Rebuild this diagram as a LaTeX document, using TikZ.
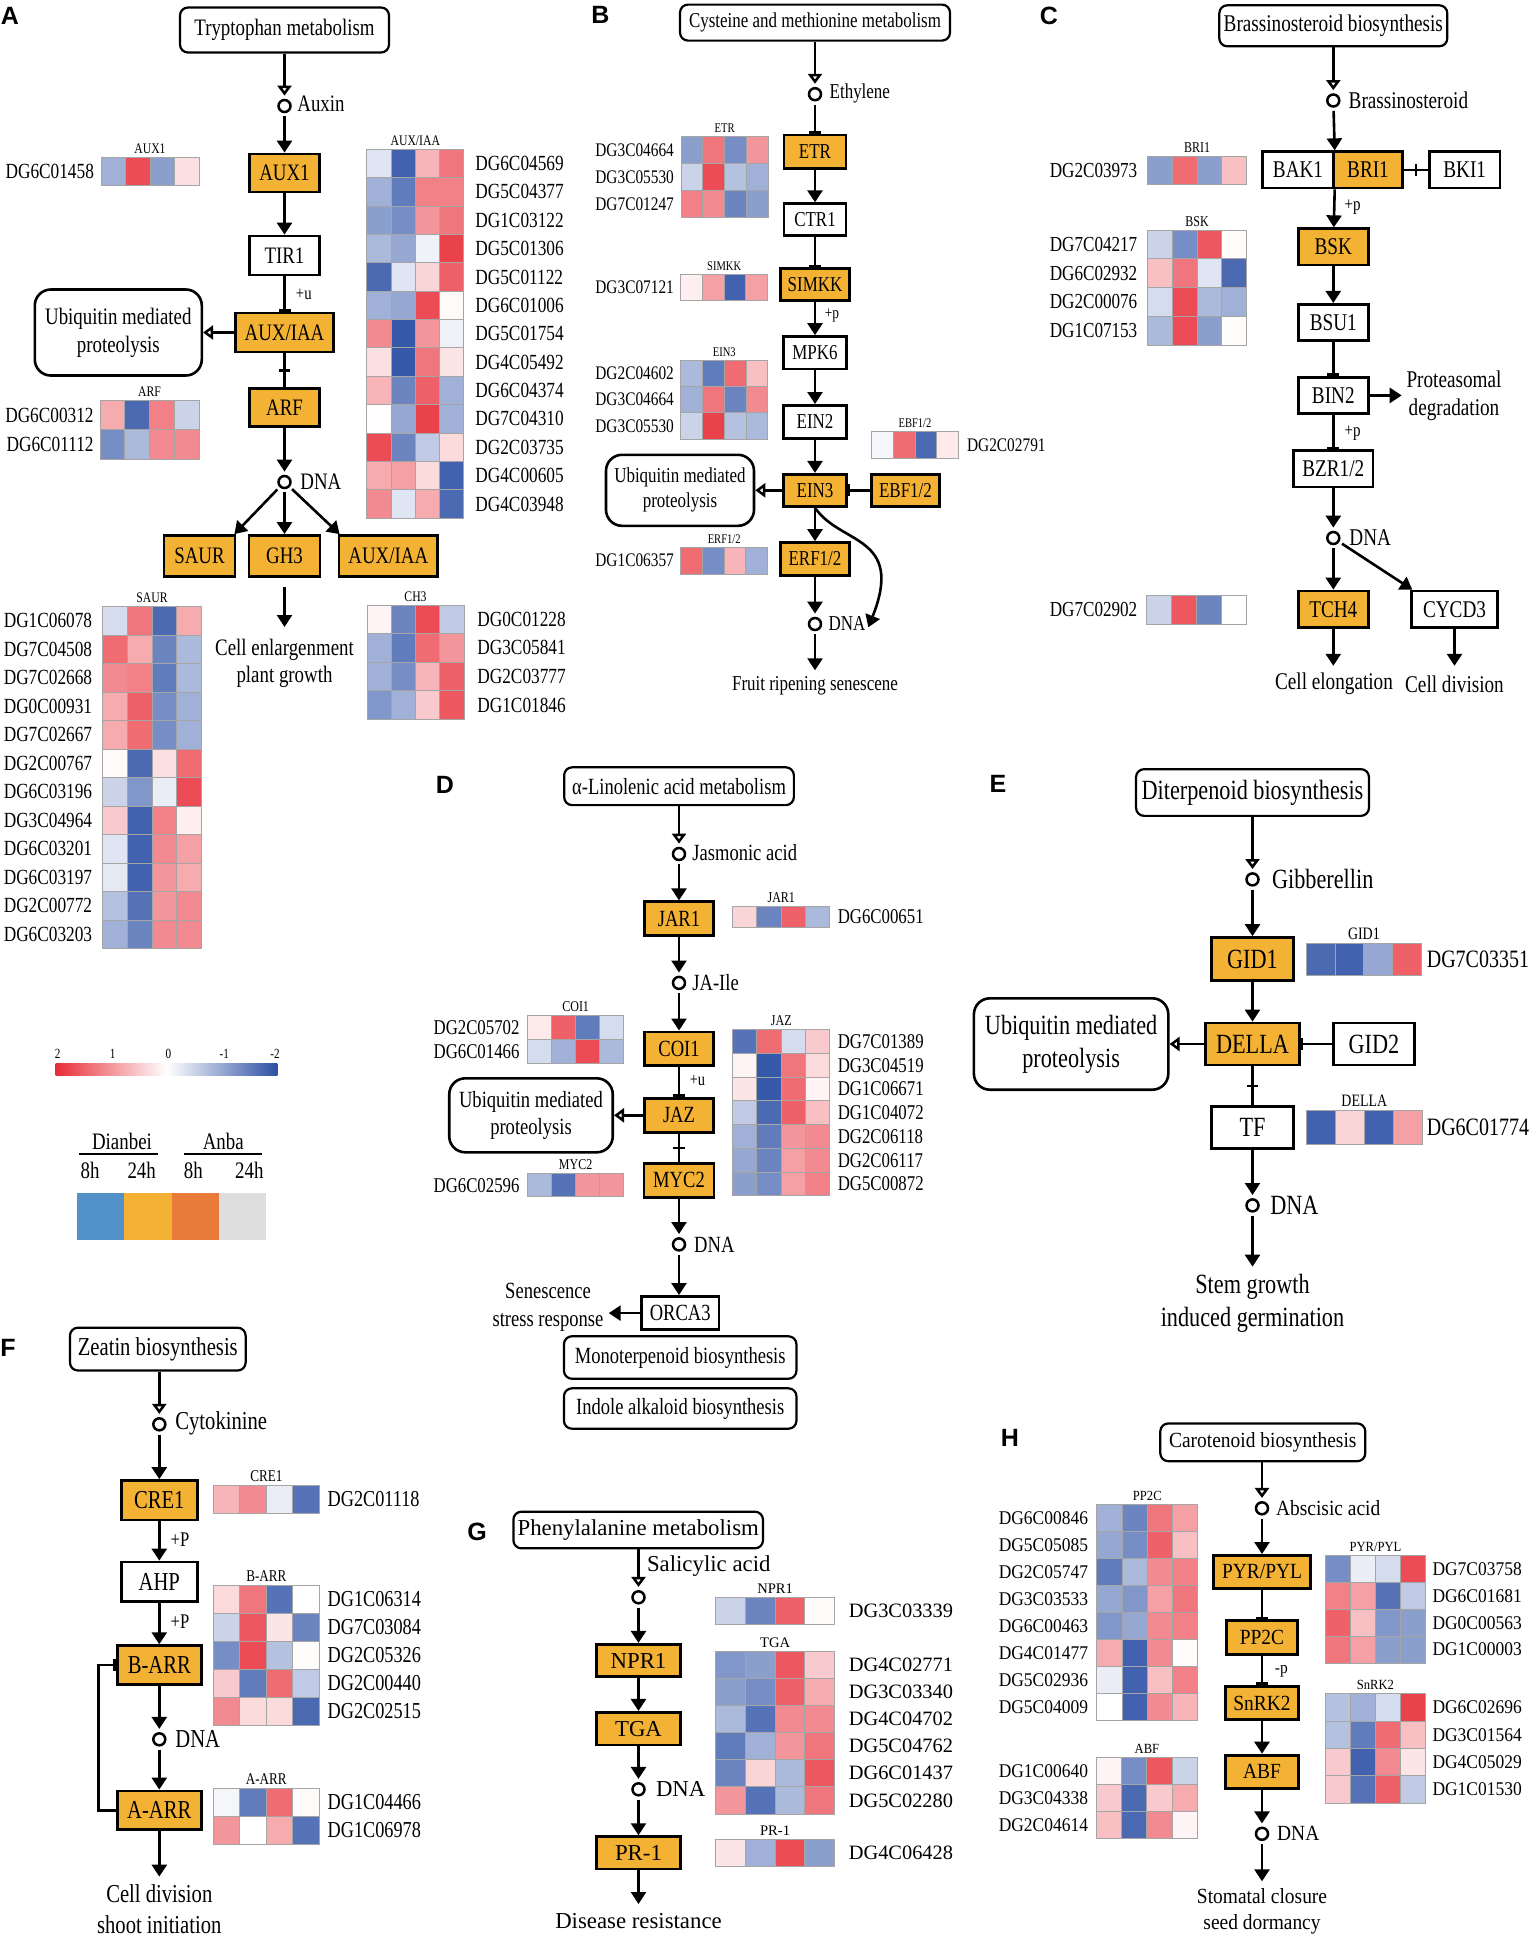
\documentclass[tikz,border=0pt]{standalone}
\usepackage{fontspec}
\setmainfont{Liberation Serif}
\newfontfamily\fcond[FakeStretch=0.8]{Liberation Serif}
\newfontfamily\fmid[FakeStretch=0.9]{Liberation Serif}
\newfontfamily\fnorm{Liberation Serif}
\newfontfamily\fletter{Liberation Sans}
\usetikzlibrary{arrows.meta,decorations.markings}

\definecolor{ggold}{RGB}{244,178,52}
\definecolor{hred}{RGB}{232,45,55}
\definecolor{hblue}{RGB}{45,80,165}
\definecolor{hgrey}{RGB}{165,165,165}
\definecolor{lgblue}{RGB}{82,146,201}
\definecolor{lgorange}{RGB}{232,122,58}
\definecolor{lggrey}{RGB}{222,222,222}

% panel fonts: family, main size, id size, heatmap title size, small size
\newcommand\setpanel[5]{\def\pf{#1}\def\szM{#2}\def\szI{#3}\def\szH{#4}\def\szS{#5}\pgfmathsetmacro\szMb{1.18*#2}}

% heatmap: name, x, y(top), cell w, cell h, label x, label anchor, title, rows id/v1/v2/v3/v4
\newcommand{\heatmap}[9]{%
  \node[hmtitle] (#1) at ({#2+2*#4},{#3-4}) {#8};
  \foreach \gname/\qa/\qb/\qc/\qd [count=\rr from 0] in {#9}{%
    \foreach \val [count=\cc from 0] in {\qa,\qb,\qc,\qd}{%
      \pgfmathsetmacro{\pc}{min(100,abs(\val)*50)}%
      \ifdim\val pt<0pt \def\hcol{hblue}\else\def\hcol{hred}\fi
      \filldraw[hcell,fill=\hcol!\pc!white] ({#2+\cc*#4},{#3+\rr*#5}) rectangle ++(#4,#5);
    }
    \node[gid,anchor=#7] (#1-\rr) at (#6,{#3+(\rr+0.5)*#5}) {\gname};
  }
}

\tikzset{
  mfont/.style={font=\pf\fontsize{\szM}{\szMb}\selectfont},
  pathbox/.style={draw, fill=white, rounded corners=4pt, line width=1.1pt, mfont, inner sep=0pt},
  genebox/.style={draw, fill=ggold, line width=1.4pt, mfont, inner sep=0pt},
  plainbox/.style={draw, fill=white, line width=1.4pt, mfont, inner sep=0pt},
  ubox/.style={draw, rounded corners=8pt, line width=1.3pt, mfont, align=center, inner sep=0pt},
  met/.style={circle, draw, line width=1.25pt, minimum size=6pt, inner sep=0pt, outer sep=2.2pt},
  lbl/.style={mfont, inner sep=0pt, anchor=west},
  outc/.style={mfont, align=center, inner sep=0pt},
  signl/.style={font=\pf\fontsize{\szS}{\szS}\selectfont, inner sep=0pt},
  gid/.style={font=\pf\fontsize{\szI}{\szI}\selectfont, inner sep=0pt},
  hmtitle/.style={font=\pf\fontsize{\szH}{\szH}\selectfont, inner sep=0pt, anchor=base},
  hcell/.style={draw=hgrey, line width=0.5pt},
  letter/.style={font=\fletter\bfseries\fontsize{12.5}{12.5}\selectfont, inner sep=0pt},
  conn/.style={line width=1.3pt},
  actarr/.style={conn, -{Triangle[width=7.5pt,length=6pt]}},
  openarr/.style={conn, -{Triangle[open,width=7pt,length=5pt]}},
  inharr/.style={conn, -{Bar[width=6pt]}},
  midbar/.style={conn, postaction={decorate, decoration={markings,
      mark=at position 0.5 with {\draw[conn] (0,-2.8pt) -- (0,2.8pt);}}}},
  tickl/.style={font=\fcond\fontsize{7}{7}\selectfont, inner sep=0pt},
}

\begin{document}
\begin{tikzpicture}[x=0.5pt,y=0.5pt,yscale=-1]
\useasboundingbox (0,0) rectangle (1535,1939);

%%%%%%%%%%%%%%%% A : Tryptophan
\begin{scope}
\setpanel{\fcond}{11.8}{10.8}{7.3}{9.2}
% Text Node
\node[letter] (lA) at (10,15.5) {A};
%Shape: Rounded Rect
\node[pathbox, minimum width=104.5pt, minimum height=22.5pt] (trp) at (284.5,30) {Tryptophan metabolism};
\node[met] (auxin) at (284.5,106) {};
\node[lbl] (auxinl) at (297,104) {Auxin};
%Shape: Rectangle
\node[genebox, minimum width=35pt, minimum height=19pt] (aux1) at (284.5,173) {AUX1};
\node[plainbox, minimum width=35pt, minimum height=19.5pt] (tir1) at (284.5,255.5) {TIR1};
\node[genebox, minimum width=49pt, minimum height=19.5pt] (auxiaa) at (284.5,332.5) {AUX/IAA};
\node[ubox, minimum width=83.5pt, minimum height=43pt] (ubqA) at (118.3,332.5) {Ubiquitin mediated\\proteolysis};
\node[genebox, minimum width=35pt, minimum height=19pt] (arf) at (284.5,407.7) {ARF};
\node[met] (dnaA) at (284.5,482) {};
\node[lbl] (dnaAl) at (300,482) {DNA};
\node[genebox, minimum width=35.5pt, minimum height=20.5pt] (saur) at (199.5,556) {SAUR};
\node[genebox, minimum width=35.5pt, minimum height=20.5pt] (gh3) at (284.5,556) {GH3};
\node[genebox, minimum width=49.3pt, minimum height=20.5pt] (auxiaa2) at (388.3,556) {AUX/IAA};
% Text Node
\node[signl] (uA) at (303.8,294.6) {+u};
\node[outc] (outA) at (284.5,663.3) {Cell enlargenment\\plant growth};
\coordinate (endA) at (284.5,627);
%Straight Lines
\draw[openarr] (trp) -- (auxin);
\draw[actarr] (auxin) -- (aux1);
\draw[actarr] (aux1) -- (tir1);
\draw[inharr] (tir1) -- (auxiaa);
\draw[openarr] (auxiaa) -- (ubqA);
\draw[midbar] (auxiaa) -- (arf);
\draw[actarr] (arf) -- (dnaA);
\draw[actarr] (dnaA) -- ([xshift=-1pt]saur.north east);
\draw[actarr] (dnaA) -- (gh3);
\draw[actarr] (dnaA) -- ([xshift=1pt]auxiaa2.north west);
\draw[actarr, shorten <=4.5pt] (gh3) -- (endA);
% Heat maps
\heatmap{hmAUX1}{101}{157}{24.5}{28}{94.3}{east}{AUX1}{DG6C01458/-0.9/1.7/-1.1/0.3}
\heatmap{hmARF}{100}{400.7}{24.75}{29.15}{94}{east}{ARF}{
  DG6C00312/0.8/-1.7/1.2/-0.5, DG6C01112/-1.3/-0.8/1.1/1.1}
\heatmap{hmSAUR}{102.7}{606.6}{24.65}{28.5}{92.5}{east}{SAUR}{
  DG1C06078/-0.4/1.3/-1.7/0.8, DG7C04508/1.4/0.8/-1.4/-0.8,
  DG7C02668/1.1/1.2/-1.5/-0.8, DG0C00931/0.8/1.5/-1.3/-0.9,
  DG7C02667/0.8/1.4/-1.3/-0.9, DG2C00767/0.05/-1.7/0.3/1.4,
  DG6C03196/-0.5/-1.2/-0.2/1.7, DG3C04964/0.5/-1.8/1.2/0.15,
  DG6C03201/-0.3/-1.8/1.1/0.9, DG6C03197/-0.25/-1.8/1.0/0.8,
  DG2C00772/-0.7/-1.6/1.0/1.1, DG6C03203/-0.9/-1.4/1.1/1.1}
\heatmap{hmAUXIAA}{366.7}{149.3}{24.3}{28.38}{475}{west}{AUX/IAA}{
  DG6C04569/-0.3/-1.8/0.7/1.3, DG5C04377/-0.9/-1.5/1.2/1.2,
  DG1C03122/-1.1/-1.3/1.0/1.3, DG5C01306/-0.8/-1.0/-0.15/1.8,
  DG5C01122/-1.7/-0.3/0.4/1.5, DG6C01006/-0.9/-1.0/1.7/0.05,
  DG5C01754/1.1/-1.9/1.0/-0.15, DG4C05492/0.3/-1.9/1.3/0.25,
  DG6C04374/0.7/-1.4/1.5/-0.9, DG7C04310/0.02/-1.0/1.8/-0.9,
  DG2C03735/1.7/-1.4/-0.6/0.35, DG4C00605/0.8/0.9/0.35/-1.8,
  DG4C03948/1.1/-0.3/0.8/-1.7}
\heatmap{hmCH3}{367}{605}{24.25}{28.6}{477}{west}{CH3}{
  DG0C01228/0.1/-1.4/1.7/-0.6, DG3C05841/-0.9/-1.5/1.4/1.0,
  DG2C03777/-0.9/-1.3/0.7/1.5, DG1C01846/-1.2/-0.9/0.5/1.6}

% Legend
\shade[left color=hred, right color=hblue, middle color=white] (55.7,1063.4) rectangle (277.3,1075);
\node[tickl] (t2) at (57.7,1054) {2};
\node[tickl] (t1) at (112.7,1054) {1};
\node[tickl] (t0) at (168.3,1054) {0};
\node[tickl] (tm1) at (224.3,1054) {-1};
\node[tickl] (tm2) at (275,1054) {-2};
\node[mfont, inner sep=0pt] (dian) at (122,1141.5) {Dianbei};
\node[mfont, inner sep=0pt] (anba) at (223.3,1141.5) {Anba};
\draw[line width=0.6pt] (79.3,1153.9) -- (157.7,1153.9);
\draw[line width=0.6pt] (184.3,1153.9) -- (262.3,1153.9);
\node[mfont, inner sep=0pt] (h1) at (90,1170) {8h};
\node[mfont, inner sep=0pt] (h2) at (141.7,1170) {24h};
\node[mfont, inner sep=0pt] (h3) at (193.3,1170) {8h};
\node[mfont, inner sep=0pt] (h4) at (249.3,1170) {24h};
\fill[lgblue] (77.3,1193.4) rectangle (124,1240.2);
\fill[ggold] (124,1193.4) rectangle (172,1240.2);
\fill[lgorange] (172,1193.4) rectangle (219.3,1240.2);
\fill[lggrey] (219.3,1193.4) rectangle (265.7,1240.2);
\end{scope}

%%%%%%%%%%%%%%%% B : Cysteine and methionine
\begin{scope}
\setpanel{\fcond}{10.6}{9.6}{6.6}{8.4}
% Text Node
\node[letter] (lB) at (600.5,14.5) {B};
\node[pathbox, minimum width=135pt, minimum height=18pt] (cys) at (815,22.6) {Cysteine and methionine metabolism};
\node[met] (eth) at (815,94.2) {};
\node[lbl] (ethl) at (829.3,93.5) {Ethylene};
\node[genebox, minimum width=31pt, minimum height=16.75pt] (etr) at (815,151.7) {ETR};
\node[plainbox, minimum width=31pt, minimum height=15.85pt] (ctr1) at (815,219.6) {CTR1};
\node[genebox, minimum width=34.2pt, minimum height=15.85pt] (simkk) at (815,284.4) {SIMKK};
\node[plainbox, minimum width=31.4pt, minimum height=16.25pt] (mpk6) at (815,352.8) {MPK6};
\node[plainbox, minimum width=31.4pt, minimum height=16.5pt] (ein2) at (815,421.9) {EIN2};
\node[genebox, minimum width=31.3pt, minimum height=16pt] (ein3) at (815,490.3) {EIN3};
\node[genebox, minimum width=33.8pt, minimum height=16pt] (ebf) at (905.5,490.3) {EBF1/2};
\node[ubox, minimum width=74pt, minimum height=35.5pt] (ubqB) at (680,490.3) {Ubiquitin mediated\\proteolysis};
\node[genebox, minimum width=34.15pt, minimum height=16.3pt] (erf) at (815,558.9) {ERF1/2};
\node[met] (dnaB) at (815,624) {};
\node[lbl] (dnaBl) at (828.3,624) {DNA};
\node[signl] (pB) at (832,316) {+p};
\node[outc] (outB) at (815,686) {Fruit ripening senescene};
\coordinate (endB) at (815,670.3);
\coordinate (curveB) at (868.3,627.3);
%Straight Lines
\draw[openarr] (cys) -- (eth);
\draw[inharr] (eth) -- (etr);
\draw[actarr] (etr) -- (ctr1);
\draw[inharr] (ctr1) -- (simkk);
\draw[actarr] (simkk) -- (mpk6);
\draw[actarr] (mpk6) -- (ein2);
\draw[actarr] (ein2) -- (ein3);
\draw[inharr] (ebf) -- (ein3);
\draw[openarr] (ein3) -- (ubqB);
\draw[actarr] (ein3) -- (erf);
\draw[actarr] (erf) -- (dnaB);
\draw[actarr] (dnaB) -- (endB);
%Curve Lines
\draw[actarr] (ein3.south) .. controls (840,545) and (905,535) .. (curveB);
% Heat maps
\heatmap{hmETR}{681}{136.8}{21.8}{26.87}{674.3}{east}{ETR}{
  DG3C04664/-1.1/1.3/-1.3/1.0, DG3C05530/-0.5/1.7/-0.7/-0.9,
  DG7C01247/1.2/1.1/-1.4/-1.1}
\heatmap{hmSIMKK}{680.7}{274}{21.75}{26.3}{674.3}{east}{SIMKK}{DG3C07121/0.15/0.9/-1.8/0.9}
\heatmap{hmEIN3}{680.7}{360}{21.8}{26.43}{674.3}{east}{EIN3}{
  DG2C04602/-0.8/-1.5/1.4/0.6, DG3C04664/-0.9/1.3/-1.4/1.1,
  DG3C05530/-0.5/1.8/-0.7/-0.8}
\heatmap{hmEBF}{871.7}{431.6}{21.65}{26.7}{966.7}{west}{EBF1/2}{DG2C02791/-0.1/1.4/-1.7/0.2}
\heatmap{hmERF}{680.7}{547}{21.75}{27.3}{674.3}{east}{ERF1/2}{DG1C06357/1.4/-1.3/0.7/-0.9}
\end{scope}

%%%%%%%%%%%%%%%% C : Brassinosteroid
\begin{scope}
\setpanel{\fcond}{12}{10.7}{7.5}{9.4}
% Text Node
\node[letter] (lC) at (1049,16) {C};
\node[pathbox, minimum width=114pt, minimum height=20.5pt] (bras) at (1333.3,25.8) {Brassinosteroid biosynthesis};
\node[met] (brs) at (1333.3,100.5) {};
\node[lbl] (brsl) at (1348.3,100) {Brassinosteroid};
\node[plainbox, minimum width=35.3pt, minimum height=18.15pt] (bak) at (1298,169.9) {BAK1};
\node[genebox, minimum width=34.7pt, minimum height=18.15pt] (bri) at (1368,169.9) {BRI1};
\node[plainbox, minimum width=35.35pt, minimum height=18.15pt] (bki) at (1464.7,169.9) {BKI1};
\node[genebox, minimum width=35pt, minimum height=18.15pt] (bsk) at (1333.3,246.9) {BSK};
\node[plainbox, minimum width=35pt, minimum height=18.15pt] (bsu) at (1333.3,322.5) {BSU1};
\node[plainbox, minimum width=35pt, minimum height=18.1pt] (bin) at (1333.3,395.4) {BIN2};
\node[plainbox, minimum width=39.7pt, minimum height=18.15pt] (bzr) at (1333.3,468.8) {BZR1/2};
\node[met] (dnaC) at (1333.3,538) {};
\node[lbl] (dnaCl) at (1349,538) {DNA};
\node[genebox, minimum width=35pt, minimum height=18.15pt] (tch) at (1333.3,609.2) {TCH4};
\node[plainbox, minimum width=42.8pt, minimum height=18.15pt] (cyc) at (1454.5,609.2) {CYCD3};
\node[outc] (prot) at (1454,395.9) {Proteasomal\\degradation};
\coordinate (protC) at (1401.7,395.4);
\node[signl] (pC1) at (1352.7,207) {+p};
\node[signl] (pC2) at (1352.7,433.4) {+p};
\node[outc] (outC1) at (1334,683.9) {Cell elongation};
\node[outc] (outC2) at (1454.5,683.9) {Cell division};
\coordinate (endC1) at (1333.3,665.8);
\coordinate (endC2) at (1454.5,665.8);
%Straight Lines
\draw[openarr] (bras) -- (brs);
\draw[actarr] (brs) -- (bak.north east);
\draw[actarr] (bak.south east) -- (bsk);
\draw[midbar] (bri) -- (bki);
\draw[actarr] (bsk) -- (bsu);
\draw[inharr] (bsu) -- (bin);
\draw[actarr] (bin) -- (protC);
\draw[inharr] (bin) -- (bzr);
\draw[actarr] (bzr) -- (dnaC);
\draw[actarr] (dnaC) -- (tch);
\draw[actarr] (dnaC) -- ([xshift=1pt]cyc.north west);
\draw[actarr] (tch) -- (endC1);
\draw[actarr] (cyc) -- (endC2);
% Heat maps
\heatmap{hmBRI1}{1147.3}{156.3}{24.85}{28}{1137.7}{east}{BRI1}{DG2C03973/-1.1/1.4/-1.1/0.6}
\heatmap{hmBSK}{1147.3}{230}{24.85}{28.78}{1137.7}{east}{BSK}{
  DG7C04217/-0.5/-1.3/1.6/0.03, DG6C02932/0.6/1.3/-0.3/-1.7,
  DG2C00076/-0.4/1.7/-0.8/-0.9, DG1C07153/-0.8/1.7/-1.1/0.03}
\heatmap{hmTCH4}{1146.7}{595.6}{25}{28.5}{1137.7}{east}{}{DG7C02902/-0.5/1.6/-1.4/0.0}
\end{scope}

%%%%%%%%%%%%%%%% D : alpha-Linolenic acid
\begin{scope}
\setpanel{\fcond}{11.6}{10.5}{7.5}{9}
% Text Node
\node[letter] (lD) at (445,784.7) {D};
\node[pathbox, minimum width=114.85pt, minimum height=18.9pt] (lin) at (679,786.2) {α-Linolenic acid metabolism};
\node[met] (ja) at (679,854) {};
\node[lbl] (jal) at (692,853) {Jasmonic acid};
\node[genebox, minimum width=34.45pt, minimum height=16.9pt] (jar) at (679,918.7) {JAR1};
\node[met] (jaile) at (679,982.9) {};
\node[lbl] (jailel) at (692,982.9) {JA-Ile};
\node[genebox, minimum width=34.45pt, minimum height=16.7pt] (coi) at (679,1048.6) {COI1};
\node[genebox, minimum width=34.45pt, minimum height=17.15pt] (jaz) at (679,1115.3) {JAZ};
\node[ubox, minimum width=81.75pt, minimum height=37pt] (ubqD) at (531,1115.3) {Ubiquitin mediated\\proteolysis};
\node[genebox, minimum width=34.95pt, minimum height=17.1pt] (myc) at (679,1180.4) {MYC2};
\node[met] (dnaD) at (679,1244.4) {};
\node[lbl] (dnaDl) at (693.8,1244.4) {DNA};
\node[plainbox, minimum width=38.75pt, minimum height=16.7pt] (orca) at (680.2,1313.1) {ORCA3};
\node[outc] (sen) at (548,1307.3) {Senescence\\stress response};
\coordinate (senC) at (608.7,1313.1);
\node[pathbox, minimum width=116.25pt, minimum height=21.25pt] (mono) at (680.2,1357.5) {Monoterpenoid biosynthesis};
\node[pathbox, minimum width=116.25pt, minimum height=20.2pt] (indole) at (680.2,1408.5) {Indole alkaloid biosynthesis};
\node[signl] (uD) at (697.5,1080.4) {+u};
%Straight Lines
\draw[openarr] (lin) -- (ja);
\draw[actarr] (ja) -- (jar);
\draw[actarr] (jar) -- (jaile);
\draw[actarr] (jaile) -- (coi);
\draw[inharr] (coi) -- (jaz);
\draw[openarr] (jaz) -- (ubqD);
\draw[midbar] (jaz) -- (myc);
\draw[actarr] (myc) -- (dnaD);
\draw[actarr] (dnaD) -- (dnaD |- orca.north);
\draw[actarr] (orca) -- (senC);
% Heat maps
\heatmap{hmJAR1}{732.7}{906.1}{24.28}{21.7}{837.4}{west}{JAR1}{DG6C00651/0.4/-1.4/1.5/-0.8}
\heatmap{hmCOI1}{527.4}{1015.4}{24.13}{23.85}{519.9}{east}{COI1}{
  DG2C05702/0.2/1.5/-1.5/-0.4, DG6C01466/-0.4/-0.9/1.7/-0.8}
\heatmap{hmJAZ}{732.7}{1029.7}{24.28}{23.73}{837.4}{west}{JAZ}{
  DG7C01389/-1.6/1.4/-0.4/0.5, DG3C04519/0.1/-1.9/1.3/0.35,
  DG1C06671/0.25/-1.9/1.4/0.1, DG1C04072/-0.6/-1.7/1.5/0.6,
  DG2C06118/-0.9/-1.5/1.0/1.1, DG2C06117/-1.0/-1.4/0.9/1.1,
  DG5C00872/-1.1/-1.3/0.9/1.2}
\heatmap{hmMYC2}{527.4}{1173.7}{24.13}{23}{519.9}{east}{MYC2}{DG6C02596/-0.8/-1.6/1.0/1.0}
\end{scope}

%%%%%%%%%%%%%%%% E : Diterpenoid
\begin{scope}
\setpanel{\fcond}{13.9}{12.5}{8.7}{10}
% Text Node
\node[letter] (lE) at (998,783.5) {E};
\node[pathbox, minimum width=116.45pt, minimum height=23.35pt] (dit) at (1252.5,792.5) {Diterpenoid biosynthesis};
\node[met] (gib) at (1252.5,879.4) {};
\node[lbl] (gibl) at (1271.7,878.5) {Gibberellin};
\node[genebox, minimum width=40.9pt, minimum height=21.45pt] (gid1) at (1252.5,959) {GID1};
\node[genebox, minimum width=46.75pt, minimum height=21pt] (della) at (1252.5,1044) {DELLA};
\node[ubox, minimum width=97.2pt, minimum height=45.7pt] (ubqE) at (1071.1,1044) {Ubiquitin mediated\\proteolysis};
\node[plainbox, minimum width=40.7pt, minimum height=21pt] (gid2) at (1374,1044) {GID2};
\node[plainbox, minimum width=40.9pt, minimum height=21pt] (tf) at (1252.5,1127.7) {TF};
\node[met] (dnaE) at (1252.5,1205.4) {};
\node[lbl] (dnaEl) at (1269.9,1205.4) {DNA};
\node[outc] (outE) at (1252.5,1303) {Stem growth\\induced germination};
\coordinate (endE) at (1252.5,1266.6);
%Straight Lines
\draw[openarr] (dit) -- (gib);
\draw[actarr] (gib) -- (gid1);
\draw[actarr] (gid1) -- (della);
\draw[openarr] (della) -- (ubqE);
\draw[inharr] (gid2) -- (della);
\draw[midbar] (della) -- (tf);
\draw[actarr] (tf) -- (dnaE);
\draw[actarr] (dnaE) -- (endE);
% Heat maps
\heatmap{hmGID1}{1306.5}{943.3}{28.7}{32.5}{1426.4}{west}{GID1}{DG7C03351/-1.7/-1.8/-1.0/1.5}
\heatmap{hmDELLA}{1306.5}{1110.9}{28.875}{33.3}{1426.4}{west}{DELLA}{DG6C01774/-1.8/0.4/-1.8/0.9}
\end{scope}

%%%%%%%%%%%%%%%% F : Zeatin
\begin{scope}
\setpanel{\fcond}{12.9}{11.4}{8.2}{10.4}
% Text Node
\node[letter] (lF) at (8,1348) {F};
\node[pathbox, minimum width=87.85pt, minimum height=21.4pt] (zea) at (157.8,1349.1) {Zeatin biosynthesis};
\node[met] (cyt) at (159.3,1424.3) {};
\node[lbl] (cytl) at (175,1423.5) {Cytokinine};
\node[genebox, minimum width=37.85pt, minimum height=19.75pt] (cre) at (159.3,1500.3) {CRE1};
\node[plainbox, minimum width=37.8pt, minimum height=19.75pt] (ahp) at (159.3,1581.8) {AHP};
\node[genebox, minimum width=41.85pt, minimum height=19.35pt] (barr) at (159.3,1665) {B-ARR};
\node[met] (dnaF) at (159.3,1739.3) {};
\node[lbl] (dnaFl) at (175,1739.3) {DNA};
\node[genebox, minimum width=41.85pt, minimum height=19.35pt] (aarr) at (159.3,1810.3) {A-ARR};
\node[signl] (pF1) at (180,1539.6) {+P};
\node[signl] (pF2) at (180,1622) {+P};
\node[outc] (outF) at (159.3,1909.2) {Cell division\\shoot initiation};
\coordinate (endF) at (159.3,1876.6);
%Straight Lines
\draw[openarr] (zea.south -| cyt) -- (cyt);
\draw[actarr] (cyt) -- (cre);
\draw[actarr] (cre) -- (ahp);
\draw[actarr] (ahp) -- (barr);
\draw[actarr] (barr) -- (dnaF);
\draw[actarr] (dnaF) -- (aarr);
\draw[actarr] (aarr) -- (endF);
\draw[inharr] (aarr.west) -- ++(-17.3,0) |- (barr.west);
% Heat maps
\heatmap{hmCRE1}{213.3}{1485.4}{26.5}{27.7}{327.3}{west}{CRE1}{DG2C01118/0.7/1.1/-0.2/-1.6}
\heatmap{hmBARR}{213.3}{1585.3}{26.5}{27.94}{327.3}{west}{B-ARR}{
  DG1C06314/0.35/1.3/-1.6/0.0, DG7C03084/-0.5/1.6/0.25/-1.4,
  DG2C05326/-1.3/1.7/-0.7/0.03, DG2C00440/0.5/-1.5/1.4/-0.6,
  DG2C02515/1.1/0.35/0.35/-1.7}
\heatmap{hmAARR}{213.3}{1788.2}{26.5}{27.9}{327.3}{west}{A-ARR}{
  DG1C04466/-0.1/-1.5/1.4/0.05, DG1C06978/1.0/0.0/0.8/-1.6}
\end{scope}

%%%%%%%%%%%%%%%% G : Phenylalanine
\begin{scope}
\setpanel{\fnorm}{11.4}{10.2}{7.3}{9}
% Text Node
\node[letter] (lG) at (477,1532) {G};
\node[pathbox, minimum width=124.8pt, minimum height=18.3pt] (phe) at (638.2,1530) {Phenylalanine metabolism};
\node[met] (sal) at (638.5,1597.3) {};
\node[lbl] (sall) at (646.6,1566) {Salicylic acid};
\node[genebox, minimum width=41.85pt, minimum height=16.2pt] (npr) at (638.5,1660.5) {NPR1};
\node[genebox, minimum width=41.85pt, minimum height=16.35pt] (tga) at (638.5,1728.7) {TGA};
\node[met] (dnaG) at (638.5,1789.3) {};
\node[lbl] (dnaGl) at (655.6,1789.3) {DNA};
\node[genebox, minimum width=41.65pt, minimum height=16.15pt] (pr) at (638.5,1852.8) {PR-1};
\node[outc] (outG) at (638.5,1920.7) {Disease resistance};
\coordinate (endG) at (638.5,1904);
%Straight Lines
\draw[openarr] (phe.south -| sal) -- (sal);
\draw[actarr] (sal) -- (npr);
\draw[actarr] (npr) -- (tga);
\draw[actarr] (tga) -- (dnaG);
\draw[actarr] (dnaG) -- (pr);
\draw[actarr] (pr) -- (endG);
% Heat maps
\heatmap{hmNPR1}{715.9}{1597.3}{29.6}{26.7}{848.4}{west}{NPR1}{DG3C03339/-0.5/-1.4/1.5/0.05}
\heatmap{hmTGA}{715.9}{1651}{29.6}{27.17}{848.4}{west}{TGA}{
  DG4C02771/-1.2/-1.1/1.6/0.5, DG3C03340/-1.1/-1.3/1.5/0.8,
  DG4C04702/-0.8/-1.6/1.1/1.1, DG5C04762/-1.5/-0.9/1.0/1.3,
  DG6C01437/-1.4/0.4/-0.8/1.6, DG5C02280/1.0/-1.6/-0.8/1.3}
\heatmap{hmPR1}{715.9}{1839.3}{29.6}{27.4}{848.4}{west}{PR-1}{DG4C06428/0.25/-0.9/1.7/-1.1}
\end{scope}

%%%%%%%%%%%%%%%% H : Carotenoid
\begin{scope}
\setpanel{\fmid}{10.8}{9.7}{7}{8.6}
% Text Node
\node[letter] (lH) at (1010,1437.8) {H};
\node[pathbox, minimum width=102.5pt, minimum height=18.9pt] (car) at (1262.8,1442.3) {Carotenoid biosynthesis};
\node[met] (aba) at (1262,1508.3) {};
\node[lbl] (abal) at (1275.7,1508.3) {Abscisic acid};
\node[genebox, minimum width=48.85pt, minimum height=16.5pt] (pyr) at (1262,1571.9) {PYR/PYL};
\node[genebox, minimum width=35.6pt, minimum height=16.85pt] (pp2c) at (1262,1637.5) {PP2C};
\node[genebox, minimum width=36.7pt, minimum height=16.65pt] (snrk) at (1262,1703) {SnRK2};
\node[genebox, minimum width=36.15pt, minimum height=16.7pt] (abf) at (1262,1771.8) {ABF};
\node[met] (dnaH) at (1262,1833.8) {};
\node[lbl] (dnaHl) at (1276.8,1833.8) {DNA};
\node[signl] (pH) at (1281.3,1671.6) {-p};
\node[outc] (outH) at (1262,1911.3) {Stomatal closure\\seed dormancy};
\coordinate (endH) at (1262,1881.3);
%Straight Lines
\draw[openarr] (car.south -| aba) -- (aba);
\draw[actarr] (aba) -- (pyr);
\draw[inharr] (pyr) -- (pp2c);
\draw[inharr] (pp2c) -- (snrk);
\draw[actarr] (snrk) -- (abf);
\draw[actarr] (abf) -- (dnaH);
\draw[actarr] (dnaH) -- (endH);
% Heat maps
\heatmap{hmPP2C}{1096.7}{1504.8}{25.3}{26.99}{1088.4}{east}{PP2C}{
  DG6C00846/-0.9/-1.4/1.3/0.9, DG5C05085/-1.0/-1.3/1.5/0.6,
  DG2C05747/-1.5/-0.8/1.1/1.2, DG3C03533/-1.0/-1.2/0.9/1.3,
  DG6C00463/-1.2/-1.0/1.1/1.2, DG4C01477/0.8/-1.8/1.1/0.03,
  DG5C02936/-0.2/-1.8/0.6/1.2, DG5C04009/0.0/-1.8/1.1/0.7}
\heatmap{hmABF}{1096.7}{1757.5}{25.1}{26.93}{1088.4}{east}{ABF}{
  DG1C00640/0.1/-1.3/1.6/-0.5, DG3C04338/0.5/-1.7/0.5/0.8,
  DG2C04614/0.6/-1.7/1.1/0.1}
\heatmap{hmPYR}{1325.4}{1555.7}{25.03}{26.83}{1432.1}{west}{PYR/PYL}{
  DG7C03758/-1.3/-0.2/-0.4/1.7, DG6C01681/1.2/0.9/-1.6/-0.6,
  DG0C00563/1.5/0.6/-1.2/-1.1, DG1C00003/1.3/0.9/-1.1/-1.1}
\heatmap{hmSnRK2}{1325.4}{1693.9}{25.03}{27.33}{1432.1}{west}{SnRK2}{
  DG6C02696/-0.7/-0.9/-0.4/1.8, DG3C01564/-0.7/-1.5/1.4/0.6,
  DG4C05029/0.5/-1.8/1.1/0.25, DG1C01530/0.5/-1.6/1.5/-0.6}
\end{scope}

\end{tikzpicture}
\end{document}
